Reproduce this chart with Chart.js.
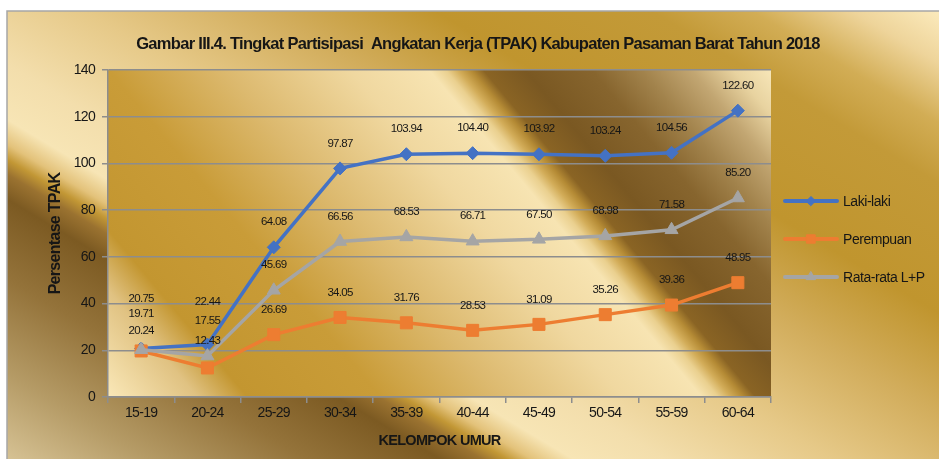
<!DOCTYPE html>
<html lang="id">
<head>
<meta charset="UTF-8">
<title>TPAK Kabupaten Pasaman Barat 2018</title>
<script src="https://cdn.jsdelivr.net/npm/chart.js@4.4.1/dist/chart.umd.min.js"></script>
<style>
  body { margin: 0; background: #ffffff; }
  #wrap { width: 939px; height: 459px; }
</style>
</head>
<body>
<div id="wrap"><canvas id="chart" width="939" height="459"></canvas></div>
<script>
// data
const categories = ['15-19', '20-24', '25-29', '30-34', '35-39', '40-44', '45-49', '50-54', '55-59', '60-64'];
const lakiLaki  = [20.75, 22.44, 64.08, 97.87, 103.94, 104.40, 103.92, 103.24, 104.56, 122.60];
const perempuan = [19.71, 12.43, 26.69, 34.05, 31.76, 28.53, 31.09, 35.26, 39.36, 48.95];
const rataRata  = [20.24, 17.55, 45.69, 66.56, 68.53, 66.71, 67.50, 68.98, 71.58, 85.20];
const seriesNames = ['Laki-laki', 'Perempuan', 'Rata-rata L+P'];
const yMin = 0, yMax = 140, yStep = 20;

// no narrow font installed: Liberation Sans with tightened spacing stands in for Arial Narrow
const FONT = "'Liberation Sans', Arial, sans-serif";
const TIGHT = '-0.7px';
const INK = '#161616';
const GRID = '#8d8d8d';

// label lift above point (px); the first two groups were hand-placed in the original
const liftDefault = 25;
const liftOverride = { '0:0': 50, '1:0': 37, '2:0': 19, '0:1': 43, '1:1': 27, '2:1': 35 };

function bandGradient(ctx, x0, y0, x1, y1, k, stops) {
  // bands run along y - k*x = const, gradient starts at the top-right corner
  const n = Math.sqrt(1 + k * k);
  const sStart = y0 - k * x1;
  const sEnd = y1 - k * x0;
  const len = (sEnd - sStart) / n;
  const g = ctx.createLinearGradient(x1, y0, x1 - k / n * len, y0 + len / n);
  stops.forEach(([s, c]) => g.addColorStop(Math.min(1, Math.max(0, (s - sStart) / (sEnd - sStart))), c));
  return g;
}

const backgrounds = {
  id: 'backgrounds',
  beforeDraw(chart) {
    const ctx = chart.ctx;
    const W = chart.width, H = chart.height;
    const a = chart.chartArea;
    ctx.save();
    ctx.fillStyle = '#ffffff';
    ctx.fillRect(0, 0, W, H);
    // outer frame
    const fx = 7, fy = 11;
    const outerStops = [
      [-552, '#fbeabc'], [-500, '#eed49a'], [-440, '#d2ad55'], [-380, '#c39a38'],
      [-250, '#c0952e'], [-150, '#d2ad5c'], [-40, '#e6c988'], [60, '#f3deac'],
      [115, '#f7e5b5'], [140, '#e3c27a'], [155, '#c29735'], [170, '#9a7230'],
      [195, '#7c5a22'], [275, '#94733a'], [370, '#b59b66'], [455, '#d6c294']
    ];
    ctx.fillStyle = bandGradient(ctx, fx, fy, W, H, 0.6, outerStops);
    ctx.fillRect(fx, fy, W - fx, H - fy);
    ctx.strokeStyle = '#a6a6a6';
    ctx.lineWidth = 1.5;
    ctx.beginPath();
    ctx.moveTo(fx, H);
    ctx.lineTo(fx, fy);
    ctx.lineTo(W, fy);
    ctx.stroke();
    // plot area
    const plotStops = [
      [-855, '#f7e6b8'], [-810, '#e8d3a0'], [-760, '#c2a672'], [-700, '#a2834c'],
      [-640, '#87652e'], [-560, '#7a5822'], [-510, '#8a6424'], [-495, '#b58b35'],
      [-480, '#d2ac58'], [-465, '#ead08f'], [-445, '#f7e4b2'], [-350, '#f0d8a0'],
      [-200, '#dcb96e'], [-60, '#c99c38'], [100, '#c39630'], [160, '#e0c282'], [267, '#fae8b8']
    ];
    ctx.fillStyle = bandGradient(ctx, a.left, a.top, a.right, a.bottom, 1.2, plotStops);
    ctx.fillRect(a.left, a.top, a.right - a.left, a.bottom - a.top);
    ctx.restore();
    // everything the library writes after this point is set tight
    ctx.letterSpacing = TIGHT;
  }
};

const pointLabels = {
  id: 'pointLabels',
  afterDatasetsDraw(chart) {
    const ctx = chart.ctx;
    ctx.save();
    ctx.font = '11.5px ' + FONT;
    ctx.letterSpacing = TIGHT;
    ctx.fillStyle = INK;
    ctx.textAlign = 'center';
    ctx.textBaseline = 'middle';
    chart.data.datasets.forEach((ds, di) => {
      const meta = chart.getDatasetMeta(di);
      meta.data.forEach((pt, i) => {
        const lift = liftOverride[di + ':' + i] ?? liftDefault;
        ctx.fillText(ds.data[i].toFixed(2), pt.x, pt.y - lift);
      });
    });
    ctx.restore();
  }
};

const sideLegend = {
  id: 'sideLegend',
  afterDraw(chart) {
    const ctx = chart.ctx;
    const a = chart.chartArea;
    const x0 = a.right + 14, x1 = a.right + 66, xm = (x0 + x1) / 2;
    ctx.save();
    chart.data.datasets.forEach((ds, i) => {
      const y = 201 + i * 38;
      ctx.strokeStyle = ds.borderColor;
      ctx.lineWidth = 4;
      ctx.lineCap = 'round';
      ctx.beginPath();
      ctx.moveTo(x0, y);
      ctx.lineTo(x1, y);
      ctx.stroke();
      ctx.fillStyle = ds.borderColor;
      ctx.lineWidth = 1;
      Chart.helpers.drawPoint(ctx, { pointStyle: ds.pointStyle, radius: ds.pointRadius * 0.7, borderWidth: 1 }, xm, y);
      ctx.fillStyle = INK;
      ctx.font = '14px ' + FONT;
      ctx.letterSpacing = '-0.45px';
      ctx.textAlign = 'left';
      ctx.textBaseline = 'middle';
      ctx.fillText(seriesNames[i], x1 + 6, y + 1);
    });
    ctx.restore();
  }
};

function lineSet(label, data, color, style, radius, order) {
  return {
    label, data, order,
    borderColor: color,
    backgroundColor: color,
    pointBackgroundColor: color,
    pointBorderColor: color,
    borderWidth: 3.5,
    pointStyle: style,
    pointRadius: radius,
    pointBorderWidth: 1,
    tension: 0
  };
}

new Chart(document.getElementById('chart'), {
  type: 'line',
  data: {
    labels: categories,
    datasets: [
      lineSet(seriesNames[0], lakiLaki, '#4472c4', 'rectRot', 6.5, 3),
      lineSet(seriesNames[1], perempuan, '#ed7d31', 'rect', 8.5, 2),
      lineSet(seriesNames[2], rataRata, '#a5a5a5', 'triangle', 7.5, 1)
    ]
  },
  options: {
    responsive: false,
    animation: false,
    devicePixelRatio: 1,
    layout: { padding: { left: 17, top: 11, right: 0, bottom: 0 } },
    plugins: {
      legend: { display: false },
      tooltip: { enabled: false },
      title: {
        display: true,
        text: 'Gambar III.4. Tingkat Partisipasi  Angkatan Kerja (TPAK) Kabupaten Pasaman Barat Tahun 2018',
        color: INK,
        font: { family: FONT, size: 16.5, weight: 'bold' },
        padding: { top: 24, bottom: 15.2 }
      }
    },
    scales: {
      x: {
        type: 'category',
        offset: true,
        grid: { display: true, offset: true, drawOnChartArea: false, drawTicks: true, tickLength: 6, color: GRID, lineWidth: 1.5 },
        border: { display: true, color: GRID, width: 1.5 },
        ticks: { color: INK, font: { family: FONT, size: 14 }, padding: 2, maxRotation: 0, autoSkip: false },
        title: {
          display: true, text: 'KELOMPOK UMUR', color: INK,
          font: { family: FONT, size: 14.5, weight: 'bold' },
          padding: { top: 2, bottom: 9 }
        },
        afterFit(s) { s.height = 62; }
      },
      y: {
        min: yMin, max: yMax,
        grid: { color: GRID, lineWidth: 1.5, tickLength: 6, drawTicks: true },
        border: { display: true, color: GRID, width: 1.5 },
        ticks: { stepSize: yStep, color: INK, font: { family: FONT, size: 14 }, padding: 7 },
        title: {
          display: true, text: 'Persentase TPAK', color: INK,
          font: { family: FONT, size: 16, weight: 'bold' },
          padding: { top: 28.5, bottom: 0 }
        },
        afterFit(s) { s.width = 91; }
      },
      side: {
        type: 'linear',
        position: 'right',
        display: true,
        grid: { display: false },
        border: { display: false },
        ticks: { display: false },
        afterFit(s) { s.width = 168; }
      }
    }
  },
  plugins: [backgrounds, pointLabels, sideLegend]
});
</script>
</body>
</html>
